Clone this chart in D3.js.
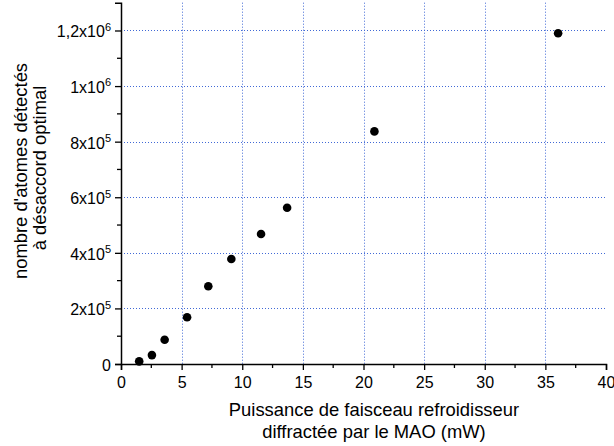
<!DOCTYPE html>
<html><head><meta charset="utf-8">
<script src="https://cdn.jsdelivr.net/npm/d3@7"></script>
<style>body{margin:0;background:#fff}svg{display:block;font-family:"Liberation Sans",Arial,sans-serif}</style>
</head><body><svg id="c" width="614" height="446"></svg>
<script>
const powerMW = [1.5, 2.55, 3.6, 5.45, 7.2, 9.1, 11.55, 13.7, 20.9, 36.05];
const atoms = [9500, 32000, 87000, 168000, 280000, 378000, 468000, 562000, 837000, 1190000];
const xTicks = [0, 5, 10, 15, 20, 25, 30, 35, 40];
const yTicks = [0, 2e5, 4e5, 6e5, 8e5, 1e6, 1.2e6];
const yTickLabels = [["0",""],["2x10","5"],["4x10","5"],["6x10","5"],["8x10","5"],["1x10","6"],["1,2x10","6"]];
const xLabelLines = ["Puissance de faisceau refroidisseur", "diffractée par le MAO (mW)"];
const yLabelLines = ["nombre d'atomes détectés", "à désaccord optimal"];

const svg = d3.select("#c");
const x = d3.scaleLinear().domain([0, 40]).range([121, 606]);
const y = d3.scaleLinear().domain([0, 1.3e6]).range([364, 2.7]);

// grid
const grid = svg.append("g").attr("stroke", "#4169d6").attr("stroke-width", 1).attr("stroke-dasharray", "1,2");
grid.selectAll("line.v").data(xTicks.filter(d => d > 0 && d < 40)).join("line")
  .attr("x1", d => Math.round(x(d)) + 0.5).attr("x2", d => Math.round(x(d)) + 0.5)
  .attr("y1", y(1.3e6)).attr("y2", y(0));
grid.selectAll("line.h").data(yTicks.filter(d => d > 0)).join("line")
  .attr("y1", d => Math.round(y(d)) + 0.5).attr("y2", d => Math.round(y(d)) + 0.5)
  .attr("x1", x(0)).attr("x2", x(40));

// axes
const xAxis = d3.axisBottom(x).tickValues(xTicks).tickSize(6).tickPadding(7).tickFormat(d3.format("d"));
const gx = svg.append("g").attr("transform", `translate(0,${y(0)})`).call(xAxis);
gx.select(".domain").attr("stroke-width", 1.5);
gx.selectAll(".tick line").attr("stroke-width", 1.3);
gx.selectAll("text").attr("font-size", 16).attr("fill", "#000");
const xMinor = d3.range(2.5, 40, 5);
gx.selectAll("line.minor").data(xMinor).join("line").attr("class", "minor")
  .attr("x1", d => x(d)).attr("x2", d => x(d)).attr("y1", 0).attr("y2", 4)
  .attr("stroke", "#000").attr("stroke-width", 1.3);

const yAxis = d3.axisLeft(y).tickValues(yTicks).tickSize(6).tickPadding(3).tickFormat("");
const gy = svg.append("g").attr("transform", `translate(${x(0)},0)`).call(yAxis);
gy.select(".domain").attr("stroke-width", 1.5);
gy.selectAll(".tick line").attr("stroke-width", 1.3);
const yMinor = d3.range(1e5, 1.3e6, 2e5);
gy.selectAll("line.minor").data(yMinor).join("line").attr("class", "minor")
  .attr("y1", d => y(d)).attr("y2", d => y(d)).attr("x1", 0).attr("x2", -4)
  .attr("stroke", "#000").attr("stroke-width", 1.3);
gy.selectAll(".tick").each(function(d, i) {
  const t = d3.select(this).select("text").attr("font-size", 16).attr("fill", "#000")
    .attr("x", -10).attr("dy", "0.4em").attr("text-anchor", "end");
  const lab = yTickLabels[i];
  t.text(null);
  t.append("tspan").text(lab[0]);
  if (lab[1]) t.append("tspan").attr("font-size", 11).attr("dy", "-0.6em").text(lab[1]);
});

// points
svg.append("g").selectAll("circle").data(powerMW.map((p, i) => [p, atoms[i]])).join("circle")
  .attr("cx", d => x(d[0])).attr("cy", d => y(d[1])).attr("r", 4.3).attr("fill", "#000");

// labels
svg.append("text").attr("x", 374).attr("y", 416).attr("text-anchor", "middle").attr("font-size", 18.4).text(xLabelLines[0]);
svg.append("text").attr("x", 374).attr("y", 438).attr("text-anchor", "middle").attr("font-size", 18.4).text(xLabelLines[1]);
svg.append("text").attr("transform", "translate(27,171) rotate(-90)").attr("text-anchor", "middle").attr("font-size", 18.4).text(yLabelLines[0]);
svg.append("text").attr("transform", "translate(45.5,168) rotate(-90)").attr("text-anchor", "middle").attr("font-size", 18.4).text(yLabelLines[1]);
</script></body></html>
